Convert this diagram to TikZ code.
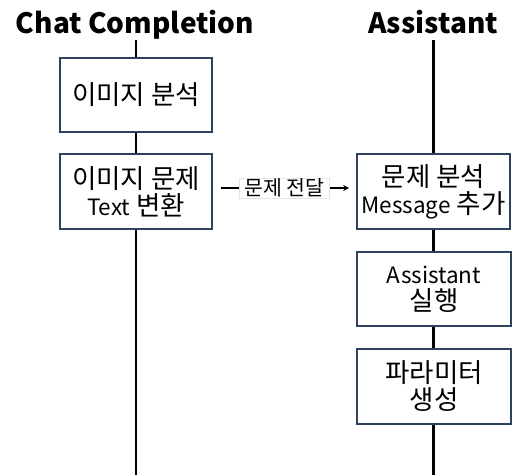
\documentclass[tikz,border=0pt]{standalone}
\usepackage{fontspec}
\setmainfont{Noto Sans CJK KR}
\usetikzlibrary{arrows.meta}
\definecolor{boxline}{HTML}{2E4260}
\newcommand{\lat}[1]{{\fontsize{22.5}{27}\selectfont #1}}
\tikzset{
  stepbox/.style={draw=boxline, line width=1.6pt, fill=white, minimum width=152pt, minimum height=74pt, inner sep=0pt, align=center, font=\fontsize{26.5}{27}\selectfont},
  lifeline/.style={line width=2.6pt, black},
  titletext/.style={font=\fontsize{28}{30}\bfseries\selectfont, inner sep=0pt},
  msg/.style={-{Stealth[length=6pt,width=6pt]}, line width=1.2pt, shorten <=8pt, shorten >=7pt}
}
\begin{document}
\begin{tikzpicture}[x=1pt,y=1pt]
\useasboundingbox (0,0) rectangle (512,-475);
\node[titletext, anchor=base] (t1) at (135,-33) {Chat Completion};
\node[titletext, anchor=base] (t2) at (433,-33) {Assistant};
\coordinate (l1top) at (136,-40);
\coordinate (l1bot) at (136,-475);
\coordinate (l2top) at (433.5,-40);
\coordinate (l2bot) at (433.5,-475);
\draw[lifeline] (l1top) -- (l1bot);
\draw[lifeline] (l2top) -- (l2bot);
\node[stepbox] (b1) at (136,-95) {이미지 분석};
\node[stepbox, minimum height=75pt] (b2) at (136,-191.5) {이미지 문제\\\lat{Text} 변환};
\node[stepbox, minimum width=153pt, minimum height=75pt] (b3) at (433.5,-191.5) {문제 분석\\\lat{Message} 추가};
\node[stepbox, minimum width=154pt] (b4) at (434,-289) {\lat{Assistant}\\실행};
\node[stepbox, minimum width=154pt, minimum height=75pt] (b5) at (434,-386.5) {파라미터\\생성};
\draw[msg] ([yshift=3.5pt]b2.east) -- node[fill=white, draw=black!10, line width=0.4pt, inner xsep=5pt, inner ysep=1pt, font=\fontsize{20.5}{22}\selectfont] (lab) {문제 전달} ([yshift=3.5pt]b3.west);
\end{tikzpicture}
\end{document}
